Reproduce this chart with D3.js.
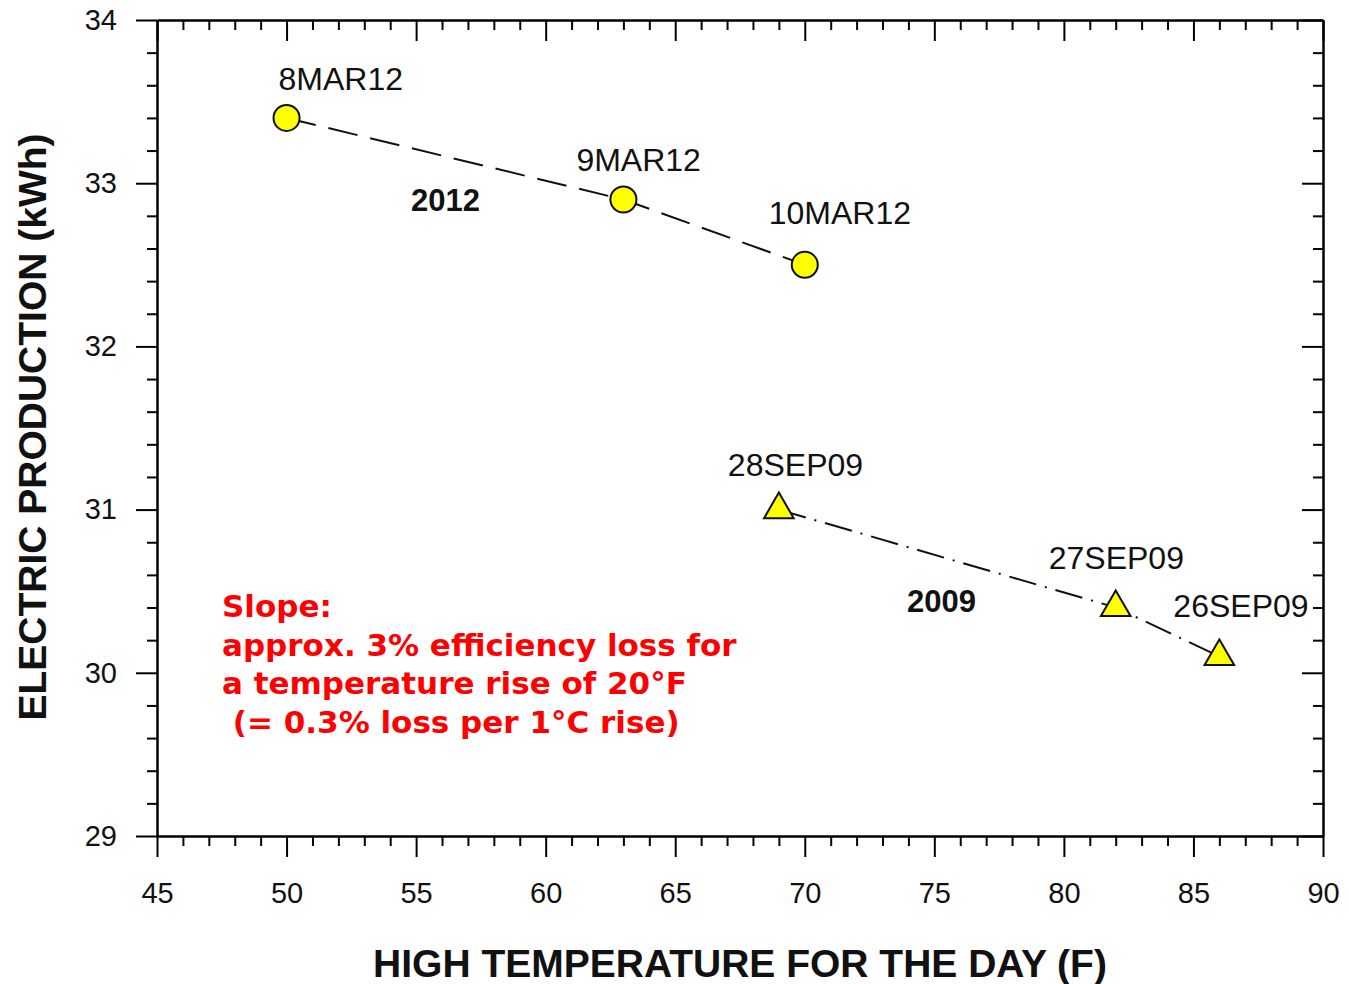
<!DOCTYPE html>
<html>
<head>
<meta charset="utf-8">
<script src="https://cdn.jsdelivr.net/npm/d3@7/dist/d3.min.js"></script>
<style>
  body { margin: 0; background: #fff; }
  svg { font-family: "Liberation Sans", Arial, sans-serif; }
  .axis path, .axis line { stroke: #000; }
  .axis text { font-size: 29px; fill: #111; font-family: "Liberation Sans", Arial, sans-serif; }
</style>
</head>
<body>
<div class="chart"></div>
<script>
// data
var labels2012 = ["8MAR12", "9MAR12", "10MAR12"];
var temps2012 = [50, 63, 70];
var kwh2012 = [33.4, 32.9, 32.5];

var labels2009 = ["28SEP09", "27SEP09", "26SEP09"];
var temps2009 = [69, 82, 86];
var kwh2009 = [31.0, 30.4, 30.1];

var xTicks = [45, 50, 55, 60, 65, 70, 75, 80, 85, 90];
var yTicks = [29, 30, 31, 32, 33, 34];

var noteLines = ["Slope:", "approx. 3% efficiency loss for", "a temperature rise of 20\u00b0F", "\u00a0(= 0.3% loss per 1\u00b0C rise)"];

var width = 1349, height = 984;
var plotLeft = 157, plotRight = 1323, plotTop = 20, plotBottom = 836;

var svg = d3.select(".chart").append("svg")
    .attr("width", width)
    .attr("height", height);

var x = d3.scaleLinear().domain([45, 90]).range([plotLeft, plotRight]);
var y = d3.scaleLinear().domain([29, 34]).range([plotBottom, plotTop]);

var xMinor = d3.range(45, 90.01, 1).filter(function(v) { return v % 5 != 0; });
var yMinor = d3.range(29, 34.001, 0.2).map(function(v) { return +v.toFixed(1); })
    .filter(function(v) { return Math.abs(v - Math.round(v)) > 0.01; });

// minor ticks first, then major axes on top
function minorAxis(axisFn, scale, vals, tx, ty) {
  svg.append("g")
      .attr("class", "axis")
      .attr("transform", "translate(" + tx + "," + ty + ")")
      .call(axisFn(scale).tickValues(vals).tickSize(10).tickFormat(""))
      .call(function(g) { g.select(".domain").remove(); })
      .selectAll("line").attr("stroke-width", 2);
}
minorAxis(d3.axisBottom, x, xMinor, 0, plotBottom);
minorAxis(d3.axisBottom, x, xMinor, 0, plotTop);
minorAxis(d3.axisLeft, y, yMinor, plotLeft, 0);
minorAxis(d3.axisLeft, y, yMinor, plotRight, 0);

function styleMajor(g) {
  g.select(".domain").attr("stroke-width", 2.5);
  g.selectAll("line").attr("stroke-width", 2);
}

svg.append("g")
    .attr("class", "axis")
    .attr("transform", "translate(0," + plotBottom + ")")
    .call(d3.axisBottom(x).tickValues(xTicks).tickSize(21).tickSizeOuter(0).tickPadding(25))
    .call(styleMajor);

svg.append("g")
    .attr("class", "axis")
    .attr("transform", "translate(0," + plotTop + ")")
    .call(d3.axisBottom(x).tickValues(xTicks).tickSize(21).tickSizeOuter(0).tickFormat(""))
    .call(styleMajor);

svg.append("g")
    .attr("class", "axis")
    .attr("transform", "translate(" + plotLeft + ",0)")
    .call(d3.axisLeft(y).tickValues(yTicks).tickSize(21).tickSizeOuter(0).tickPadding(19).tickFormat(d3.format("d")))
    .call(styleMajor);

svg.append("g")
    .attr("class", "axis")
    .attr("transform", "translate(" + plotRight + ",0)")
    .call(d3.axisLeft(y).tickValues(yTicks).tickSize(21).tickSizeOuter(0).tickFormat(""))
    .call(styleMajor);

// axis titles
svg.append("text")
    .attr("x", 740)
    .attr("y", 977)
    .attr("text-anchor", "middle")
    .attr("font-size", 39)
    .attr("font-weight", "bold")
    .attr("fill", "#111")
    .text("HIGH TEMPERATURE FOR THE DAY (F)");

svg.append("text")
    .attr("transform", "translate(46,427) rotate(-90)")
    .attr("text-anchor", "middle")
    .attr("font-size", 39)
    .attr("font-weight", "bold")
    .attr("fill", "#111")
    .text("ELECTRIC PRODUCTION (kWh)");

var pts2012 = temps2012.map(function(t, i) { return { t: t, v: kwh2012[i], label: labels2012[i] }; });
var pts2009 = temps2009.map(function(t, i) { return { t: t, v: kwh2009[i], label: labels2009[i] }; });

var line = d3.line()
    .x(function(d) { return x(d.t); })
    .y(function(d) { return y(d.v); });

svg.append("path")
    .datum(pts2012)
    .attr("d", line)
    .attr("fill", "none")
    .attr("stroke", "#111")
    .attr("stroke-width", 2)
    .attr("stroke-dasharray", "30,13");

svg.append("path")
    .datum(pts2009)
    .attr("d", line)
    .attr("fill", "none")
    .attr("stroke", "#111")
    .attr("stroke-width", 2)
    .attr("stroke-dasharray", "28,9,2,9");

// markers
svg.append("g").selectAll("circle")
    .data(pts2012)
    .enter().append("circle")
      .attr("cx", function(d) { return x(d.t); })
      .attr("cy", function(d) { return y(d.v); })
      .attr("r", 13)
      .attr("fill", "#ffff00")
      .attr("stroke", "#111")
      .attr("stroke-width", 2);

var tri = d3.symbol().type(d3.symbolTriangle).size(380);
svg.append("g").selectAll("path")
    .data(pts2009)
    .enter().append("path")
      .attr("d", tri)
      .attr("transform", function(d) { return "translate(" + x(d.t) + "," + y(d.v) + ")"; })
      .attr("fill", "#ffff00")
      .attr("stroke", "#111")
      .attr("stroke-width", 2);

// point labels
var labelOffsets2012 = [[-8, -28], [-47, -29], [-36, -41]];
var labelOffsets2009 = [[-51, -34], [-67, -39], [-46, -39]];

function pointLabels(pts, offs) {
  svg.append("g").selectAll("text")
      .data(pts)
      .enter().append("text")
        .attr("x", function(d, i) { return x(d.t) + offs[i][0]; })
        .attr("y", function(d, i) { return y(d.v) + offs[i][1]; })
        .attr("font-size", 32)
        .attr("fill", "#111")
        .text(function(d) { return d.label; });
}
pointLabels(pts2012, labelOffsets2012);
pointLabels(pts2009, labelOffsets2009);

svg.append("text")
    .attr("x", 411).attr("y", 211)
    .attr("font-size", 31).attr("font-weight", "bold").attr("fill", "#111")
    .text("2012");
svg.append("text")
    .attr("x", 907).attr("y", 612)
    .attr("font-size", 31).attr("font-weight", "bold").attr("fill", "#111")
    .text("2009");

// red note
svg.append("g").selectAll("text")
    .data(noteLines)
    .enter().append("text")
      .attr("x", 222)
      .attr("y", function(d, i) { return 617 + i * 38.5; })
      .attr("font-family", "'DejaVu Sans', Verdana, sans-serif")
      .attr("font-size", 31)
      .attr("font-weight", "bold")
      .attr("fill", "#ff0000")
      .text(function(d) { return d; });
</script>
</body>
</html>
